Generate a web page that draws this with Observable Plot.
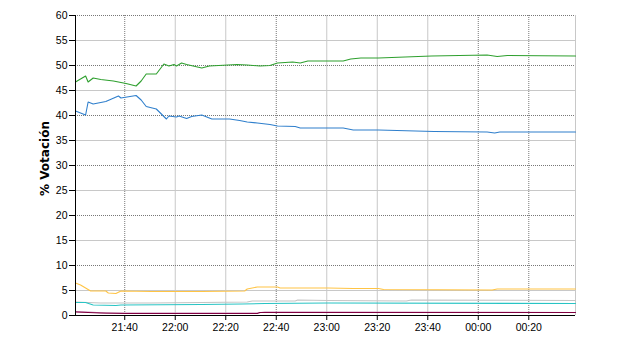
<!DOCTYPE html>
<html>
<head>
<meta charset="utf-8">
<script src="https://cdn.jsdelivr.net/npm/d3@7"></script>
<script src="https://cdn.jsdelivr.net/npm/@observablehq/plot@0.6"></script>
<style>
  html, body { margin: 0; padding: 0; background: #fff; }
  #chart { width: 640px; height: 350px; }
</style>
</head>
<body>
<div id="chart"></div>
<script>
// Minutes after 21:20:30, value (% votación)
const serieVerde = [[0,46.7],[4,47.9],[5,46.7],[7,47.5],[10,47.2],[15,46.9],[20,46.4],[24,45.9],[26,46.9],[28,48.3],[32,48.3],[35,50.3],[37,49.9],[39,50.2],[40,49.9],[42,50.5],[44,50.2],[50,49.5],[53,49.9],[64,50.2],[68,50.1],[73,49.9],[77,50.0],[80,50.5],[86,50.7],[89,50.5],[92,50.9],[106,50.9],[109,51.3],[113,51.5],[120,51.5],[141,51.9],[163,52.1],[167,51.8],[171,52.0],[198,51.9]];
const serieAzul = [[0,40.9],[4,40.1],[5,42.7],[7,42.3],[12,42.8],[17,43.9],[18,43.5],[24,44.0],[26,43.1],[28,41.8],[32,41.3],[36,39.3],[37,39.9],[40,39.7],[41,39.9],[44,39.4],[46,39.8],[50,40.1],[54,39.3],[61,39.3],[65,39.0],[68,38.7],[72,38.5],[77,38.2],[80,37.9],[87,37.8],[89,37.5],[100,37.5],[106,37.5],[110,37.1],[120,37.1],[142,36.8],[163,36.7],[166,36.5],[168,36.7],[198,36.7]];
const serieNaranja = [[0,6.5],[2,6.1],[4,5.5],[6,4.9],[12,4.9],[13,4.5],[16,4.4],[18,4.9],[30,4.8],[50,4.8],[67,4.9],[68,5.3],[72,5.7],[80,5.7],[81,5.5],[100,5.5],[110,5.4],[120,5.4],[122,5.2],[165,5.1],[167,5.3],[198,5.3]];
const serieGris = [[0,2.7],[5,2.6],[10,2.5],[30,2.5],[50,2.6],[68,2.7],[70,2.9],[87,2.9],[88,3.1],[100,3.0],[131,2.9],[133,3.1],[198,3.0]];
const serieCian = [[0,2.6],[4,2.6],[7,2.1],[16,2.0],[18,2.1],[50,2.2],[66,2.3],[75,2.4],[100,2.5],[198,2.4]];
const serieGranate = [[0,0.7],[5,0.6],[10,0.5],[20,0.4],[72,0.4],[73,0.6],[198,0.6]];
const serieRosa = [[0,0.8],[5,0.7],[12,0.5],[30,0.5],[72,0.5],[75,0.7],[198,0.6]];

const yTicks = [0,5,10,15,20,25,30,35,40,45,50,55,60];
const yGridSolid = [5,15,25,35,45,55];
const yGridDotted = [0,10,20,30,40,50,60];
const xTickLabels = ["21:40","22:00","22:20","22:40","23:00","23:20","23:40","00:00","00:20"];
const xGridDotted = ["21:40","22:40","00:00","00:20"];
const xGridSolid = ["22:00","22:20","23:00","23:20","23:40"];
const yLabel = "% Votación";

const T0 = new Date(2000, 0, 1, 21, 20, 30);
const tm = m => new Date(T0.getTime() + m * 60000);
const clock = s => {
  const [h, mi] = s.split(":").map(Number);
  return h < 12 ? new Date(2000, 0, 2, h, mi) : new Date(2000, 0, 1, h, mi);
};
const xEnd = tm(198);

const series = [
  {name: "Rosa", color: "#c884b4", pts: serieRosa},
  {name: "Granate", color: "#800040", pts: serieGranate},
  {name: "Gris", color: "#c4c4c4", pts: serieGris},
  {name: "Cian", color: "#28c4c4", pts: serieCian},
  {name: "Naranja", color: "#ffc444", pts: serieNaranja},
  {name: "Azul", color: "#2f7fcc", pts: serieAzul},
  {name: "Verde", color: "#2fa02f", pts: serieVerde}
];

const lineMarks = series.map(s =>
  Plot.line(s.pts.map(([m, v]) => ({t: tm(m), v})), {x: "t", y: "v", stroke: s.color, strokeWidth: 1.1})
);

const chart = Plot.plot({
  width: 640,
  height: 350,
  marginLeft: 75,
  marginRight: 65,
  marginTop: 15,
  marginBottom: 35,
  style: {fontFamily: "'Liberation Sans', Arial, sans-serif", fontSize: "10.5px", background: "#fff", color: "#000"},
  x: {type: "time", domain: [T0, xEnd]},
  y: {domain: [0, 60]},
  marks: [
    Plot.ruleY(yGridSolid, {stroke: "#c8c8c8", strokeWidth: 1}),
    Plot.ruleX(xGridSolid.map(clock), {stroke: "#c8c8c8", strokeWidth: 1}),
    Plot.ruleX([xEnd], {stroke: "#c8c8c8", strokeWidth: 1}),
    Plot.ruleY(yGridDotted, {stroke: "#777", strokeWidth: 1, strokeDasharray: "1,1"}),
    Plot.ruleX(xGridDotted.map(clock), {stroke: "#777", strokeWidth: 1, strokeDasharray: "1,1"}),
    ...lineMarks,
    Plot.axisY({ticks: yTicks, tickSize: 6, tickPadding: 2, label: null}),
    Plot.axisX({ticks: xTickLabels.map(clock), tickFormat: d3.timeFormat("%H:%M"), tickSize: 5, tickPadding: 3, label: null}),
    Plot.ruleX([T0], {stroke: "#000"}),
    Plot.ruleY([0], {stroke: "#000"}),
    Plot.text([yLabel], {frameAnchor: "left", textAnchor: "middle", rotate: -90, dx: -30, dy: -7, fontWeight: "bold", fontFamily: "'DejaVu Sans', Verdana, sans-serif", fontSize: 12, fill: "#000"})
  ]
});
document.getElementById("chart").appendChild(chart);
</script>
</body>
</html>
